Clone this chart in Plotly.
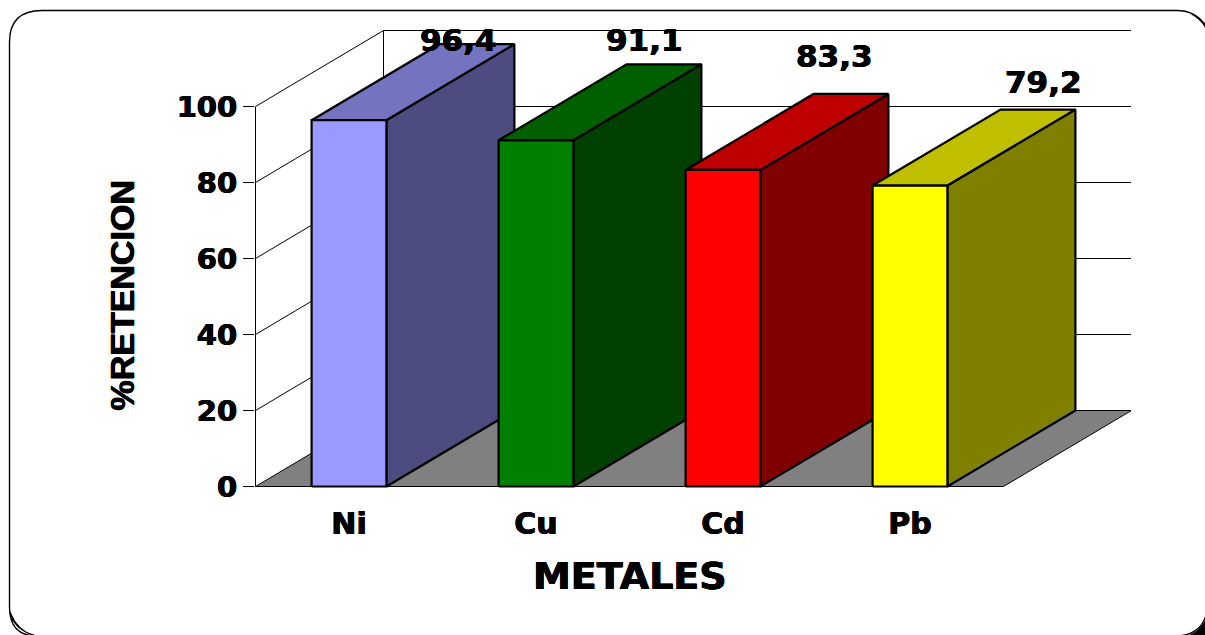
import plotly.graph_objects as go

# ---- data ----
categories = ["Ni", "Cu", "Cd", "Pb"]
retention = [96.4, 91.1, 83.3, 79.2]
value_labels = ["96,4", "91,1", "83,3", "79,2"]
y_ticks = [0, 20, 40, 60, 80, 100]
y_title = "%RETENCION"
x_title = "METALES"

# ---- styles ----
front_colors = ["#9999FF", "#008000", "#FF0000", "#FFFF00"]
top_colors = ["#7373BF", "#006000", "#BF0000", "#BFBF00"]
side_colors = ["#4C4C80", "#004000", "#800000", "#808000"]

# ---- oblique projection, in axis units ----
W, H = 1205, 635
L, R, T, B = 255, 1131, 30, 488
CAT_PX = 187.0
VAL_PX = 3.8             # pixels per unit of retention
DX = 128 / CAT_PX        # depth as seen on the category axis
DY = 20.0                # depth as seen on the value axis
BAR = 0.4
X_FRONT_END = len(categories)
HALF_X = 0.5 / CAT_PX            # half-pixel shift keeps 1px lines crisp
Y_LOW = -1.5 / VAL_PX            # zero sits at pixel row 486.5
Y_HIGH = 100 + DY + 0.5 / VAL_PX

# label placement relative to each bar's rear top edge (axis units)
label_dx = [0.005, 0.0, 0.015, 0.13]
label_dy = [1.1, 6.3, 10.0, 7.3]

fig = go.Figure()


def poly(xs, ys, fill=None, width=1.0, color="#000000"):
    fig.add_trace(go.Scatter(
        x=xs, y=ys, mode="lines", line=dict(color=color, width=width),
        fill="toself" if fill else None, fillcolor=fill,
        hoverinfo="skip", showlegend=False, cliponaxis=False,
    ))


# walls: vertical edges and gridlines
gx, gy = [], []
for v in y_ticks:
    if v == 0:
        gx += [DX, X_FRONT_END + DX, None]
        gy += [DY, DY, None]
    else:
        gx += [0, DX, X_FRONT_END + DX, None]
        gy += [v, v + DY, v + DY, None]
poly(gx, gy, width=1.0)
poly([0, 0], [0, 100], width=1.0)
poly([DX, DX], [DY, 100 + DY], width=1.0)

# floor
poly([0, X_FRONT_END, X_FRONT_END + DX, DX, 0], [0, 0, DY, DY, 0], fill="#808080", width=1.0)

# bars
for i, v in enumerate(retention):
    x0 = i + (1 - BAR) / 2
    x1 = x0 + BAR
    poly([x1, x1 + DX, x1 + DX, x1, x1], [0, DY, v + DY, v, 0], fill=side_colors[i], width=2.2)
    poly([x0, x1, x1 + DX, x0 + DX, x0], [v, v, v + DY, v + DY, v], fill=top_colors[i], width=2.2)
    poly([x0, x1, x1, x0, x0], [0, 0, v, v, 0], fill=front_colors[i], width=2.2)

THICK = "0.5px 0 0 #000, -0.5px 0 0 #000, 0 0.3px 0 #000"
TICK_FONT = dict(family="DejaVu Sans", size=29, color="#000000", weight="bold", shadow=THICK)
VALUE_FONT = dict(family="DejaVu Sans", size=31, color="#000000", weight="bold", shadow=THICK)

annotations = []
for i, (v, t) in enumerate(zip(retention, value_labels)):
    annotations.append(dict(
        x=i + 0.5 + DX * 0.85 + label_dx[i], y=v + DY + label_dy[i], xref="x", yref="y",
        text=t, showarrow=False, xanchor="center", yanchor="middle", font=VALUE_FONT,
    ))


def px(x):
    return (x - L) / (R - L)


def py(y):
    return (B - y) / (B - T)


annotations.append(dict(
    x=px(121.5), y=py(296), xref="paper", yref="paper", text=y_title, textangle=-90,
    showarrow=False, xanchor="center", yanchor="middle",
    font=dict(family="Liberation Sans", size=34, color="#000000", weight="bold", shadow="0.6px 0 0 #000, -0.6px 0 0 #000"),
))
annotations.append(dict(
    x=px(630), y=py(576), xref="paper", yref="paper", text=x_title,
    showarrow=False, xanchor="center", yanchor="middle",
    font=dict(family="DejaVu Sans", size=38, color="#000000", weight="bold", shadow=THICK),
))


def pt(x, y):
    return f"{px(x):.5f} {py(y):.5f}"


border = (f"M {pt(9.5, 42)} Q {pt(9.5, 10.5)} {pt(42, 10.5)} L {pt(1177, 10.5)} Q {pt(1198, 10.5)} {pt(1208, 30)} "
          f"L {pt(1208, 600)} Q {pt(1208, 636)} {pt(1175, 636)} L {pt(37, 636)} Q {pt(9.5, 636)} {pt(9.5, 607)} Z")
corner_br = f"M {pt(1182, 637)} Q {pt(1200, 634)} {pt(1207, 616)} L {pt(1207, 637)} Z"
corner_bl = f"M {pt(10, 612)} Q {pt(13, 630)} {pt(36, 636)} Q {pt(18, 632)} {pt(10, 612)} Z"
corner_tr = f"M {pt(1190, 14)} Q {pt(1202, 20)} {pt(1206, 30)} L {pt(1206, 24)} Q {pt(1199, 17)} {pt(1190, 14)} Z"

shapes = [
    dict(type="path", path=border, xref="paper", yref="paper", line=dict(color="#000000", width=1.4), layer="below"),
    dict(type="path", path=corner_br, xref="paper", yref="paper", fillcolor="#000000", line=dict(color="#000000", width=0), layer="below"),
    dict(type="path", path=corner_bl, xref="paper", yref="paper", fillcolor="#000000", line=dict(color="#000000", width=1), layer="below"),
    dict(type="path", path=corner_tr, xref="paper", yref="paper", fillcolor="#000000", line=dict(color="#000000", width=0), layer="below"),
]

fig.update_layout(
    width=W, height=H, autosize=False,
    margin=dict(l=L, r=W - R, t=T, b=H - B, pad=0),
    paper_bgcolor="#FFFFFF", plot_bgcolor="#FFFFFF",
    showlegend=False, annotations=annotations, shapes=shapes,
    xaxis=dict(
        range=[-HALF_X, X_FRONT_END + DX - HALF_X], tickmode="array",
        tickvals=[i + 0.5 for i in range(len(categories))], ticktext=categories,
        ticks="", showgrid=False, zeroline=False, showline=False,
        ticklabelstandoff=15,
        tickfont=dict(family="DejaVu Sans", size=30, color="#000000", weight="bold", shadow=THICK),
    ),
    yaxis=dict(
        range=[Y_LOW, Y_HIGH], tickmode="array", tickvals=y_ticks,
        ticks="outside", ticklen=11, tickwidth=1, tickcolor="#000000",
        showgrid=False, zeroline=False, showline=False,
        tickfont=TICK_FONT,
    ),
)

fig.write_html(
    "out.html",
    config=dict(displayModeBar=False),
    post_script="document.body.style.margin='0';document.body.style.overflow='hidden';",
)
